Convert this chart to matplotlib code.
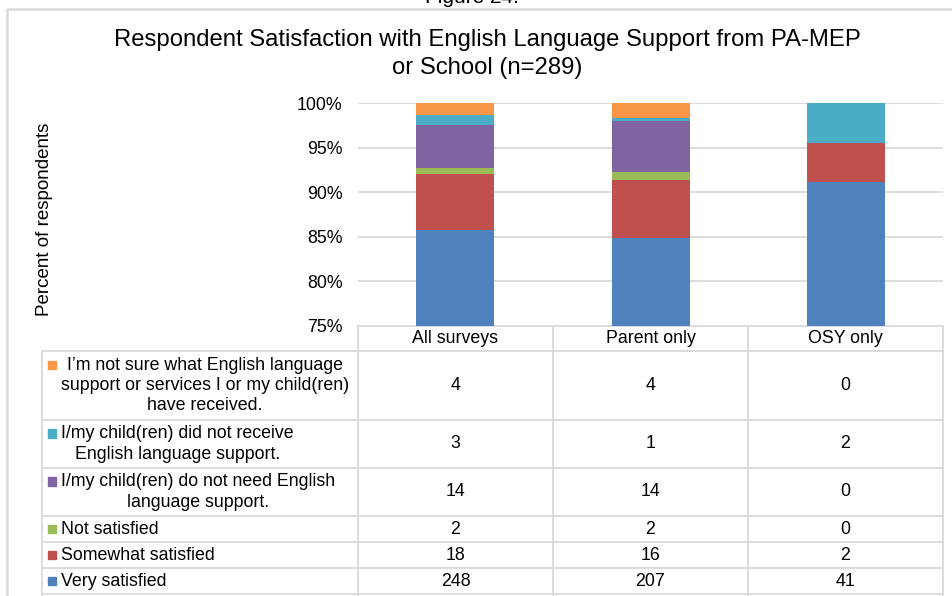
import numpy as np
import matplotlib.pyplot as plt
from matplotlib.patches import Rectangle

plt.rcParams['font.family'] = ['Liberation Sans', 'DejaVu Sans']

groups = ['All surveys', 'Parent only', 'OSY only']
responses = [
    'Very satisfied',
    'Somewhat satisfied',
    'Not satisfied',
    'I/my child(ren) do not need English\nlanguage support.',
    'I/my child(ren) did not receive\nEnglish language support.',
    'I\u2019m not sure what English language\nsupport or services I or my child(ren)\nhave received.',
]
very_satisfied = [248, 207, 41]
somewhat_satisfied = [18, 16, 2]
not_satisfied = [2, 2, 0]
no_need = [14, 14, 0]
not_received = [3, 1, 2]
not_sure = [4, 4, 0]
colors = ['#4F81BD', '#C0504D', '#9BBB59', '#8064A2', '#4BACC6', '#F79646']

counts = np.array([very_satisfied, somewhat_satisfied, not_satisfied,
                   no_need, not_received, not_sure], dtype=float)
pct = counts / counts.sum(axis=0) * 100

W, H = 953, 596
fig = plt.figure(figsize=(W / 100, H / 100), dpi=100)
grid_c = '#D9D9D9'
fs = 12.8

# bar chart area (pixel box -> figure fractions)
x0, x1, y0, y1 = 358, 943, 103, 326
ax = fig.add_axes([x0 / W, 1 - y1 / H, (x1 - x0) / W, (y1 - y0) / H])
x = np.arange(len(groups))
bottom = np.zeros(len(groups))
for i in range(len(responses)):
    ax.bar(x, pct[i], 0.4, bottom=bottom, color=colors[i], zorder=3)
    bottom += pct[i]
ax.set_xlim(-0.5, 2.5)
ax.set_ylim(75, 100)
ax.set_yticks(np.arange(75, 101, 5))
ax.set_yticklabels([f'{v}%' for v in range(75, 101, 5)], fontsize=fs)
ax.tick_params(axis='y', length=0, pad=11)
ax.set_xticks([])
ax.grid(axis='y', color=grid_c, lw=1.3, zorder=0)
for s in ax.spines.values():
    s.set_visible(False)

# overlay in pixel coordinates for the frame, titles and data table
ov = fig.add_axes([0, 0, 1, 1], zorder=-1)
ov.set_xlim(0, W)
ov.set_ylim(H, 0)
ov.axis('off')

ov.plot([7, 7, W + 5], [H, 9, 9], color=grid_c, lw=1.8)
ov.text(472, 3, 'Figure 24.', ha='center', va='baseline', fontsize=15)
ov.text(487, 40, 'Respondent Satisfaction with English Language Support from PA-MEP',
        ha='center', va='center', fontsize=17.2)
ov.text(487, 68, 'or School (n=289)', ha='center', va='center', fontsize=17.2)
ov.text(45, 219, 'Percent of respondents', rotation=90, ha='center',
        va='center', fontsize=13.5)

cols = [358, 553, 748, 943]
rows = [351, 420, 468, 516, 542, 568, 594]
lw = 1.3
ov.plot([358, 943], [326, 326], color=grid_c, lw=lw)
ov.plot([42, 943], [351, 351], color=grid_c, lw=lw)
for c in cols:
    ov.plot([c, c], [326, H], color=grid_c, lw=lw)
ov.plot([42, 42], [351, H], color=grid_c, lw=lw)
for r in rows[1:]:
    ov.plot([42, 943], [r, r], color=grid_c, lw=lw)

for j, g in enumerate(groups):
    ov.text((cols[j] + cols[j + 1]) / 2, 338.5, g, ha='center', va='center', fontsize=fs)

# table rows listed top to bottom: last response first
line_h = 20.5
for k, i in enumerate(range(len(responses) - 1, -1, -1)):
    top, bot = rows[k], rows[k + 1]
    yc = (top + bot) / 2
    nlines = responses[i].count('\n') + 1
    first_y = yc - (nlines - 1) * line_h / 2
    ov.add_patch(Rectangle((48, first_y - 4.5), 8.5, 8.5, color=colors[i]))
    ov.text(61, yc, responses[i], ha='left', va='center', ma='center',
            fontsize=fs, linespacing=1.24)
    for j in range(len(groups)):
        ov.text((cols[j] + cols[j + 1]) / 2, yc, str(int(counts[i, j])),
                ha='center', va='center', fontsize=fs)

fig.savefig('out.png', dpi=100)
